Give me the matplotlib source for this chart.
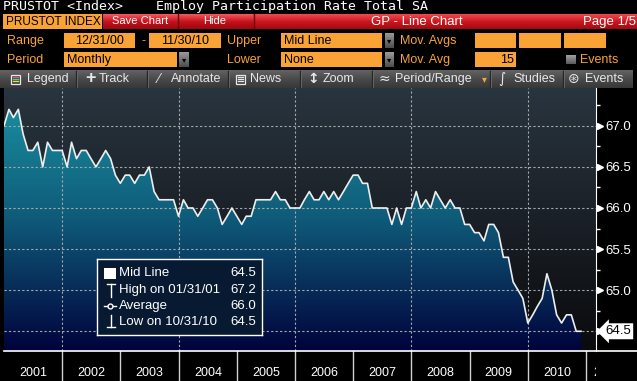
import numpy as np
import pandas as pd
import matplotlib
matplotlib.use('Agg')
import matplotlib.pyplot as plt
import matplotlib.dates as mdates
import matplotlib.transforms as mtransforms
from matplotlib.colors import LinearSegmentedColormap
from matplotlib.patches import Rectangle
from matplotlib.lines import Line2D
from matplotlib.ticker import MultipleLocator, FixedLocator, FormatStrFormatter

plt.rcParams['font.family'] = ['Liberation Sans', 'DejaVu Sans']

# Employ Participation Rate Total SA, month ends 12/31/00 - 11/30/10
rate = [
    67.0,
    67.2, 67.1, 67.2, 66.9, 66.7, 66.7, 66.8, 66.5, 66.8, 66.7, 66.7, 66.7,  # 2001
    66.5, 66.8, 66.6, 66.7, 66.7, 66.6, 66.5, 66.6, 66.7, 66.6, 66.4, 66.3,  # 2002
    66.4, 66.4, 66.3, 66.4, 66.4, 66.5, 66.2, 66.1, 66.1, 66.1, 66.1, 65.9,  # 2003
    66.1, 66.0, 66.0, 65.9, 66.0, 66.1, 66.1, 66.0, 65.8, 65.9, 66.0, 65.9,  # 2004
    65.8, 65.9, 65.9, 66.1, 66.1, 66.1, 66.1, 66.2, 66.1, 66.1, 66.0, 66.0,  # 2005
    66.0, 66.1, 66.2, 66.1, 66.1, 66.2, 66.1, 66.2, 66.1, 66.2, 66.3, 66.4,  # 2006
    66.4, 66.3, 66.3, 66.0, 66.0, 66.0, 66.0, 65.8, 66.0, 65.8, 66.0, 66.0,  # 2007
    66.2, 66.0, 66.1, 66.0, 66.2, 66.1, 66.0, 66.1, 66.0, 66.0, 65.8, 65.8,  # 2008
    65.7, 65.7, 65.6, 65.8, 65.8, 65.7, 65.4, 65.4, 65.1, 65.0, 64.9, 64.6,  # 2009
    64.7, 64.8, 64.9, 65.2, 65.0, 64.7, 64.6, 64.7, 64.7, 64.5, 64.5,        # 2010
]
dates = pd.date_range('2001-01-01', periods=len(rate), freq='MS') - pd.Timedelta(days=1)

y_ticks = [64.5, 65.0, 65.5, 66.0, 66.5, 67.0]
year_labels = [str(y) for y in range(2001, 2012)]
year_starts = [pd.Timestamp(f'{y}-01-01') for y in range(2001, 2012)]
label_pos = [pd.Timestamp(f'{y}-07-02') for y in range(2001, 2011)] + [pd.Timestamp('2011-05-10')]

W, H = 637, 381
fig = plt.figure(figsize=(W / 100, H / 100), dpi=100, facecolor='black')


def frac(x0, y0, x1, y1):
    # pixel box (origin top-left) -> figure fraction rect
    return [x0 / W, 1 - y1 / H, (x1 - x0) / W, (y1 - y0) / H]


ORANGE = '#f9a235'

# -----------------------------------
# terminal chrome (pixel coordinates)
# -----------------------------------
ui = fig.add_axes([0, 0, 1, 1], zorder=0)
ui.axis('off')


def gradient(x0, y0, x1, y1, colors):
    cmap = LinearSegmentedColormap.from_list('g', colors)
    ui.imshow(np.linspace(0, 1, 64).reshape(-1, 1), cmap=cmap,
              extent=(x0, x1, y1, y0), aspect='auto', interpolation='bilinear')


def label(x, y, s, color='white', size=9, ha='left', **kw):
    ui.text(x, y, s, color=color, fontsize=size, ha=ha, va='center', **kw)


def orange_box(x0, y0, x1, y1, text='', align='left'):
    ui.add_patch(Rectangle((x0, y0), x1 - x0, y1 - y0, color=ORANGE, lw=0))
    if text:
        if align == 'left':
            label(x0 + 3, (y0 + y1) / 2 + 0.5, text, 'black')
        elif align == 'right':
            label(x1 - 2, (y0 + y1) / 2 + 0.5, text, 'black', ha='right')
        else:
            label((x0 + x1) / 2, (y0 + y1) / 2 + 0.5, text, 'black', ha='center')


def dropdown(x0, y0, x1, y1):
    gradient(x0, y0, x1, y1, ['#9a9a9a', '#4c4c4c'])
    label((x0 + x1) / 2, (y0 + y1) / 2 + 1, '\u25be', 'black', size=6, ha='center')


# title line
label(3, 6.5, 'PRUSTOT <Index>', size=9.5, family='DejaVu Sans Mono')
label(156, 6.5, 'Employ Participation Rate Total SA', size=9.5, family='DejaVu Sans Mono')

# tab / button row
ui.add_patch(Rectangle((3, 14), 99, 15, color=ORANGE, lw=0))
label(6, 22, 'PRUSTOT INDEX', 'black', size=8.5)
gradient(103, 14, 637, 29, ['#ee4a50', '#cc1820', '#a00a12'])
gradient(103, 14, 253, 29, ['#f25a60', '#c8121c', '#9a0810'])
for sx in [177.5, 253.5]:
    ui.plot([sx, sx], [14, 29], color='#6a0008', lw=1)
label(140, 21, 'Save Chart', size=8, ha='center')
label(215, 21, 'Hide', size=8, ha='center')
label(417, 22, 'GP - Line Chart', size=9.5, ha='center')
label(636, 22, 'Page 1/5', size=9.5, ha='right')

# range row
label(7, 41, 'Range', ORANGE)
orange_box(64, 33, 135, 48, '12/31/00', 'center')
label(142, 41, '-', ORANGE)
orange_box(149, 33, 221, 48, '11/30/10', 'center')
label(227, 41, 'Upper', ORANGE)
orange_box(281, 33, 382, 48, 'Mid Line')
dropdown(385, 33, 394, 48)
label(400, 41, 'Mov. Avgs', ORANGE)
orange_box(475, 33, 516, 48)
orange_box(519, 33, 561, 48)
orange_box(564, 33, 606, 48)

# period row
label(7, 60, 'Period', ORANGE)
orange_box(64, 52, 177, 67, 'Monthly')
dropdown(179, 52, 189, 67)
label(227, 60, 'Lower', ORANGE)
orange_box(281, 52, 382, 67, 'None')
dropdown(385, 52, 394, 67)
label(400, 60, 'Mov. Avg', ORANGE)
orange_box(475, 52, 516, 67, '15', 'right')
gradient(566, 55, 576, 64, ['#a0a0a0', '#5a5a5a'])
label(580, 60, 'Events', ORANGE)

# toolbar
gradient(0, 70, 633, 88, ['#636363', '#4a4a4a', '#383838'])
for sx in [76, 147, 228, 300, 372, 490, 563]:
    ui.plot([sx, sx], [71, 87], color='#262626', lw=1)
    ui.plot([sx + 1, sx + 1], [71, 87], color='#6e6e6e', lw=0.6)
TB = '#e8e8e8'
ui.add_patch(Rectangle((10.5, 74.5), 9, 9, fill=False, ec=TB, lw=0.9))
for ly, lc in zip([76.8, 79, 81.2], ['#e040e0', '#40e040', '#f0e040']):
    ui.plot([12.5, 17.5], [ly, ly], color=lc, lw=0.9)
label(27, 79, 'Legend', TB)
label(91, 78.5, '+', TB, size=13, ha='center', weight='bold')
label(99, 79, 'Track', TB)
label(159, 79, '\u2044', TB, size=10, ha='center')
label(171, 79, 'Annotate', TB)
ui.add_patch(Rectangle((235.5, 74.5), 9, 9, fill=False, ec=TB, lw=0.9))
for ly in [76.8, 79, 81.2]:
    ui.plot([237.5, 242.5], [ly, ly], color=TB, lw=0.9)
label(250, 79, 'News', TB)
label(313, 79, '\u2195', TB, size=10, ha='center', weight='bold', family='DejaVu Sans')
label(323, 79, 'Zoom', TB)
label(384, 79, '\u2248', TB, size=10, ha='center', family='DejaVu Sans')
label(395, 79, 'Period/Range', TB)
label(484, 79, '\u25be', ORANGE, size=7, ha='center', family='DejaVu Sans')
label(502, 79, '\u222b', TB, size=10, ha='center', family='DejaVu Sans')
label(513, 79, 'Studies', TB)
label(574, 79, '\u229b', TB, size=10, ha='center', family='DejaVu Sans')
label(585, 79, 'Events', TB)

# plot background
gradient(4, 88, 596, 351, ['#28343e', '#1a2027', '#0a0b0d'])

ui.set_xlim(0, W)
ui.set_ylim(H, 0)

# -----------------------------------
# line chart
# -----------------------------------
y_lo, y_hi = 64.26, 67.46
x_lo, x_hi = pd.Timestamp('2000-12-31'), pd.Timestamp('2011-03-04')

ax = fig.add_axes(frac(4, 88, 596, 351), zorder=2)
ax.patch.set_visible(False)

band = ax.fill_between(dates, rate, y_lo, facecolor='none', edgecolor='none')
fill_cmap = LinearSegmentedColormap.from_list('fill', ['#1b94a5', '#0f5a78', '#00033c'])
xn = mdates.date2num([x_lo, x_hi])
im = ax.imshow(np.linspace(0, 1, 128).reshape(-1, 1), cmap=fill_cmap,
               extent=(xn[0], xn[1], y_lo, y_hi), aspect='auto',
               interpolation='bilinear', zorder=1)
im.set_clip_path(band.get_paths()[0], transform=ax.transData)
ax.plot(dates, rate, color='#eeeeee', lw=1.2, zorder=3)

ax.set_xlim(x_lo, x_hi)
ax.set_ylim(y_lo, y_hi)

ax.set_axisbelow(False)
ax.xaxis.set_major_locator(mdates.YearLocator(2))
ax.yaxis.set_major_locator(FixedLocator(y_ticks))
ax.yaxis.set_minor_locator(MultipleLocator(0.25))
ax.yaxis.set_major_formatter(FormatStrFormatter('%.1f'))
ax.grid(True, which='major', color='#a8a8a8', ls=(0, (2, 2)), lw=0.8)

ax.tick_params(axis='x', length=0, labelbottom=False)
ax.yaxis.tick_right()
ax.tick_params(axis='y', which='major', length=0, pad=7, labelsize=9.5, labelcolor='white')
ax.tick_params(axis='y', which='minor', length=3, color='white', width=1)
for s in ['left', 'top', 'bottom']:
    ax.spines[s].set_visible(False)
ax.spines['right'].set_color('white')

tri = mtransforms.blended_transform_factory(ax.transAxes, ax.transData)
ax.plot([1.006] * len(y_ticks), y_ticks, ls='none', marker='>', ms=5,
        color='white', transform=tri, clip_on=False, zorder=4)

ax.text(1.016, rate[-1], f'{rate[-1]:.1f}', transform=tri, ha='left', va='center',
        fontsize=9.5, color='black', clip_on=False, zorder=6,
        bbox=dict(boxstyle='larrow,pad=0.15', fc='white', ec='none'))

# -----------------------------------
# year band
# -----------------------------------
bx = fig.add_axes(frac(4, 351, 596, 381), sharex=ax, zorder=2)
bx.axis('off')
bx.set_ylim(0, 1)
for ys in year_starts[1:]:
    bx.axvline(ys, color='#d0d0d0', lw=1)
for lab, pos in zip(year_labels, label_pos):
    bx.text(pos, 0.27, lab, ha='center', va='center', color='white',
            fontsize=9, clip_on=True)

fig.add_artist(Line2D([4 / W, 1], [1 - 351 / H] * 2, transform=fig.transFigure,
                      color='white', lw=1.2, zorder=10))

# -----------------------------------
# legend box
# -----------------------------------
hi_i = int(np.argmax(rate))
lo_i = int(np.argmin(rate))
rows = [('Mid Line', rate[-1]),
        (f'High on {dates[hi_i]:%m/%d/%y}', rate[hi_i]),
        ('Average', float(np.mean(rate))),
        (f'Low on {dates[lo_i]:%m/%d/%y}', rate[lo_i])]
row_y = [14.5, 31, 47, 63]

lg = fig.add_axes(frac(97, 259, 262, 335), zorder=5)
lg.set_xlim(0, 165)
lg.set_ylim(76, 0)
lg.set_facecolor('#081a31')
lg.set_xticks([])
lg.set_yticks([])
for s in lg.spines.values():
    s.set_color('white')
    s.set_linewidth(1)

lg.add_patch(Rectangle((7, 9), 12, 11, color='white', lw=0))
lg.plot([10, 18], [25, 25], color='white', lw=1)
lg.plot([14, 14], [25, 38], color='white', lw=1)
lg.plot([7, 19], [47, 47], color='white', lw=1)
lg.plot([13], [47], marker='o', ms=3.5, mfc='#081a31', mec='white', mew=1)
lg.plot([14, 14], [56, 68], color='white', lw=1)
lg.plot([10, 18], [68, 68], color='white', lw=1)

for (name, val), yy in zip(rows, row_y):
    lg.text(22, yy, name, color='white', fontsize=9.5, va='center')
    lg.text(159, yy, f'{val:.1f}', color='white', fontsize=9.5, va='center', ha='right')

fig.savefig('out.png', dpi=100, facecolor='black')
